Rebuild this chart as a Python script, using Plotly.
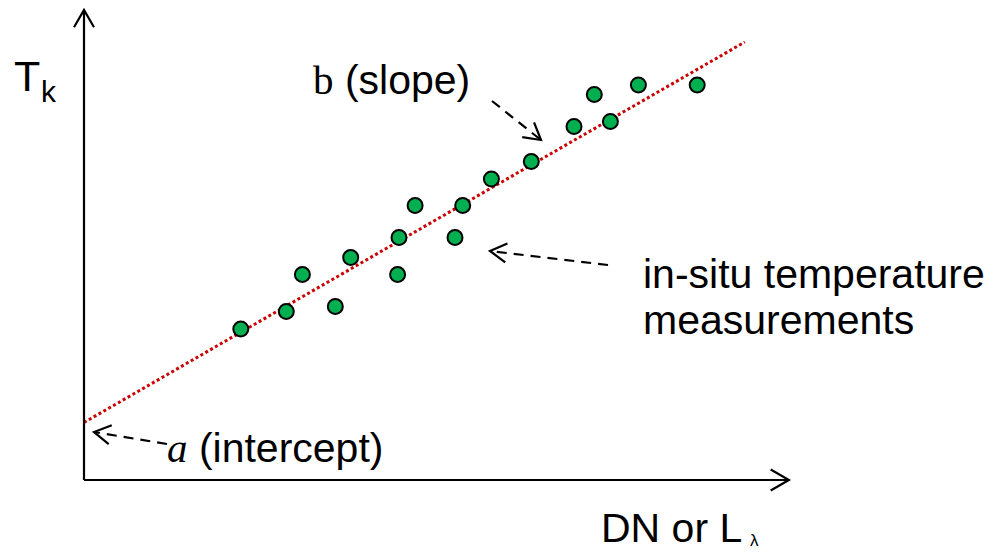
import math
import plotly.graph_objects as go

# ---- data (schematic units) ----
dn_values = [22.4, 28.9, 35.9, 31.2, 38.1, 44.8, 45.0, 47.3, 53.0, 54.1,
             58.2, 63.9, 70.0, 72.9, 75.2, 79.2, 87.6]
tk_values = [30.2, 33.7, 34.7, 41.1, 44.5, 41.1, 48.5, 54.9, 48.5, 54.9,
             60.2, 63.7, 70.7, 77.1, 71.7, 79.0, 79.0]
fit_x = [0, 94.4]
fit_y = [11.5, 87.6]
axis_x_end = 100.7
axis_y_end = 94.0

X_RANGE = [-12, 131]
Y_RANGE = [-14.6, 96]
W, H = 1001, 553
SX = W / (X_RANGE[1] - X_RANGE[0])
SY = H / (Y_RANGE[1] - Y_RANGE[0])


def d2p(x, y):
    return (x - X_RANGE[0]) * SX, (Y_RANGE[1] - y) * SY


def p2d(px, py):
    return X_RANGE[0] + px / SX, Y_RANGE[1] - py / SY


def head_path(tip, tail, length=19, half_angle=30):
    dx, dy = tail[0] - tip[0], tail[1] - tip[1]
    ang = math.atan2(dy, dx)
    pts = []
    for s in (1, -1):
        a = ang + s * math.radians(half_angle)
        pts.append((tip[0] + length * math.cos(a), tip[1] + length * math.sin(a)))
    p1 = p2d(*pts[0]); t = p2d(*tip); p2 = p2d(*pts[1])
    return f"M {p1[0]},{p1[1]} L {t[0]},{t[1]} L {p2[0]},{p2[1]}"


fig = go.Figure()
fig.add_trace(go.Scatter(x=fit_x, y=fit_y, mode="lines",
                         line=dict(color="#CC0000", width=3, dash="3px,2.6px"),
                         hoverinfo="skip", showlegend=False))
fig.add_trace(go.Scatter(x=dn_values, y=tk_values, mode="markers",
                         marker=dict(size=15, color="#00B050",
                                     line=dict(color="black", width=2)),
                         showlegend=False))

shapes = []
LW = 2.2
# axes
shapes.append(dict(type="line", xref="x", yref="y", x0=0, y0=0, x1=0, y1=axis_y_end,
                   line=dict(color="black", width=LW)))
shapes.append(dict(type="line", xref="x", yref="y", x0=0, y0=0, x1=axis_x_end, y1=0,
                   line=dict(color="black", width=LW)))
shapes.append(dict(type="path", xref="x", yref="y",
                   path=head_path(d2p(0, axis_y_end), d2p(0, 0), length=20),
                   line=dict(color="black", width=LW)))
shapes.append(dict(type="path", xref="x", yref="y",
                   path=head_path(d2p(axis_x_end, 0), d2p(0, 0), length=21),
                   line=dict(color="black", width=LW)))

# dashed pointer arrows (tail, tip) in pixel positions
pointers = [((492, 101), (541, 140)),
            ((608, 265), (490, 251)),
            ((167, 444), (94, 432))]
for tail, tip in pointers:
    a = p2d(*tail); b = p2d(*tip)
    shapes.append(dict(type="line", xref="x", yref="y", x0=a[0], y0=a[1], x1=b[0], y1=b[1],
                       line=dict(color="black", width=2.2, dash="10px,7px")))
    shapes.append(dict(type="path", xref="x", yref="y",
                       path=head_path(tip, tail, length=19, half_angle=30),
                       line=dict(color="black", width=2.2)))

SANS = "Liberation Sans, Arial, sans-serif"
annots = []


def label(text, px, py, size, family=SANS):
    x, y = p2d(px, py)
    annots.append(dict(text=text, x=x, y=y, xref="x", yref="y", xanchor="left",
                       yanchor="middle", showarrow=False,
                       font=dict(family=family, size=size, color="black")))


label("T", 12, 76, 43)
label("k", 39, 91, 30)
label('<span style="font-family:Liberation Serif">b</span> (slope)', 311, 80, 41)
label("in-situ temperature", 641, 274, 41)
label("measurements", 641, 320, 41)
label('<span style="font-family:Liberation Serif;font-style:italic">a</span> (intercept)', 165, 448, 41)
label("DN or L", 599, 528, 41)
label("λ", 748, 540, 17)

fig.update_layout(
    width=W, height=H,
    margin=dict(l=0, r=0, t=0, b=0),
    paper_bgcolor="white", plot_bgcolor="white",
    xaxis=dict(range=X_RANGE, visible=False, fixedrange=True),
    yaxis=dict(range=Y_RANGE, visible=False, fixedrange=True),
    shapes=shapes, annotations=annots,
)
fig.write_html("out.html")
